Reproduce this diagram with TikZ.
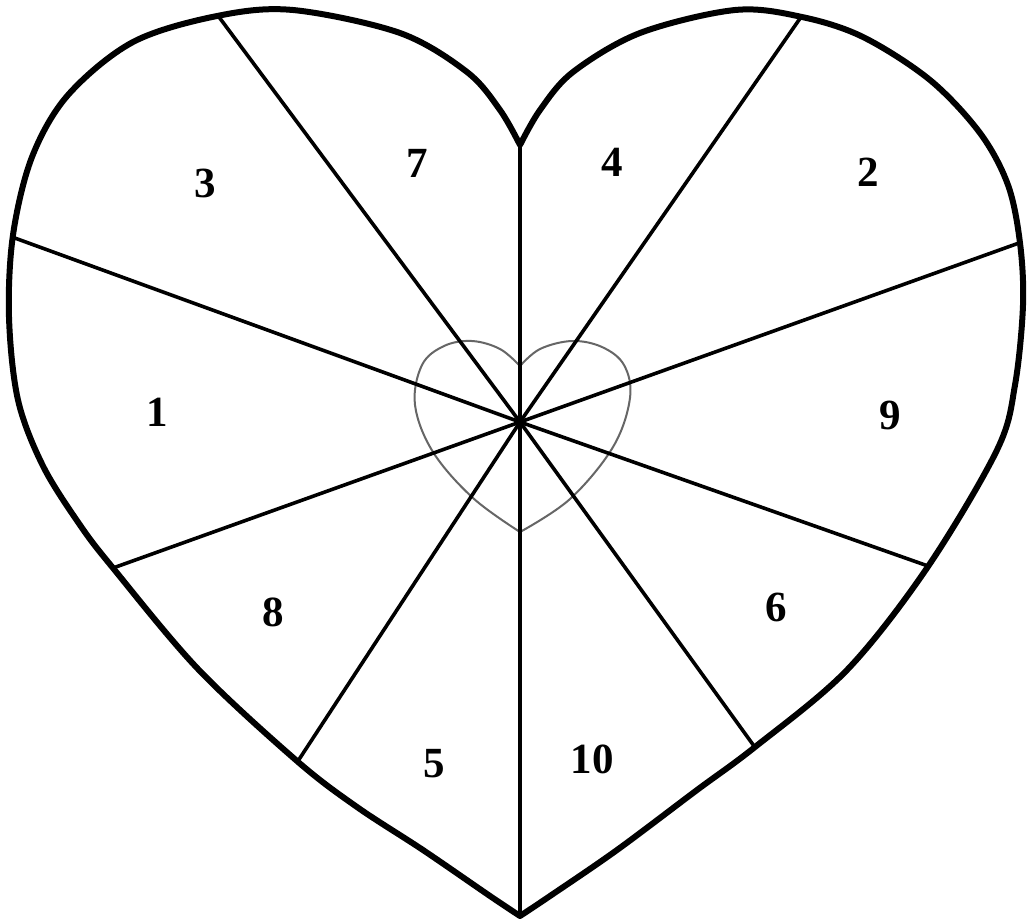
\documentclass[tikz,border=0pt]{standalone}
\usepackage{fontspec}
\setmainfont{Liberation Serif}
\begin{document}
\begin{tikzpicture}[x=1pt,y=-1pt,
  outline/.style={line width=6pt,line join=round,line cap=round},
  ray/.style={line width=3.6pt,line cap=round},
  inner/.style={line width=2pt,draw=black!60,line join=round},
  num/.style={font=\fontsize{43}{43}\selectfont\bfseries,inner sep=0pt}]
\fill[white] (0,0) rectangle (1033,922);
\useasboundingbox (0,0) rectangle (1033,922);
% small inner heart
\draw[inner] plot[smooth,tension=0.6] coordinates {(520,532) (473,498) (433,452) (415,405) (422,365) (444,346) (472,341) (500,349) (520,366)}
  -- plot[smooth,tension=0.6] coordinates {(520,366) (540,349) (572,341) (602,347) (624,365) (630,398) (613,447) (570,499) (520,532)};
% big heart outline
\draw[outline] plot[smooth,tension=0.55] coordinates {(520,916) (490,896) (423,850) (357,807) (297,761) (198,669) (113,568) (80,525) (43,466) (18,400) (9,317) (13,235) (32,157) (68,95) (133,42) (217,16) (293,10) (400,33) (467,72) (500,110) (520,145)}
  -- plot[smooth,tension=0.55] coordinates {(520,145) (540,110) (573,72) (640,33) (735,10) (802,17) (863,37) (930,80) (980,133) (1008,185) (1020,243) (1023,305) (1015,385) (997,450) (927,568) (847,670) (755,747) (697,790) (617,850) (550,896) (520,916)};
% centre and ray ends
\coordinate (c) at (520,422);
\coordinate (e0) at (520,145);
\coordinate (e1) at (219,17);
\coordinate (e2) at (12,237);
\coordinate (e3) at (113,568);
\coordinate (e4) at (298,761);
\coordinate (e5) at (520,915);
\coordinate (e6) at (754,746);
\coordinate (e7) at (928,566);
\coordinate (e8) at (1019,243);
\coordinate (e9) at (801,17);
\foreach \e in {e0,e1,e2,e3,e4,e5,e6,e7,e8,e9} \draw[ray] (c) -- (\e);
% labels
\node[num] (n3) at (205,183) {3};
\node[num] (n7) at (417,163) {7};
\node[num] (n4) at (612,162) {4};
\node[num] (n2) at (868,172) {2};
\node[num] (n1) at (157,412) {1};
\node[num] (n9) at (890,415) {9};
\node[num] (n8) at (273,612) {8};
\node[num] (n6) at (776,607) {6};
\node[num] (n5) at (434,764) {5};
\node[num] (n10) at (592,759) {10};
\end{tikzpicture}
\end{document}
